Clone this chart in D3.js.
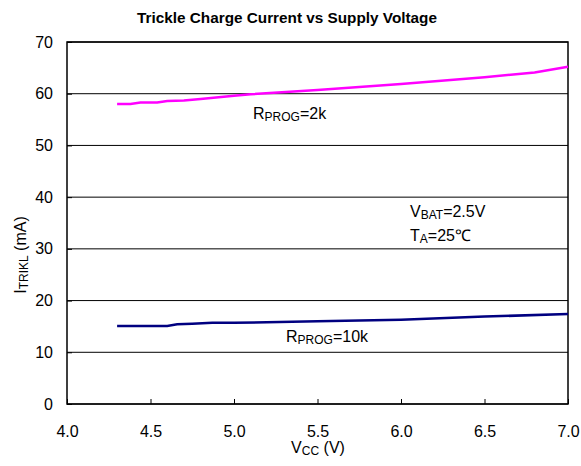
<!DOCTYPE html>
<html><head><meta charset="utf-8">
<script src="https://cdn.jsdelivr.net/npm/d3@7"></script>
<style>body{margin:0;background:#fff}svg{display:block}text{font-family:"Liberation Sans",Arial,sans-serif}</style>
</head><body><svg id="c" width="581" height="466"></svg>
<script>
const xTicks = [4.0,4.5,5.0,5.5,6.0,6.5,7.0];
const yTicks = [0,10,20,30,40,50,60,70];
const vcc2k  = [4.3,4.38,4.44,4.54,4.6,4.7,4.8,5.0,5.1,5.5,6.0,6.5,6.8,7.0];
const i2k    = [58.0,58.0,58.3,58.3,58.6,58.7,59.0,59.6,59.9,60.7,61.9,63.2,64.1,65.2];
const vcc10k = [4.3,4.6,4.66,4.75,4.87,5.0,5.5,6.0,6.5,7.0];
const i10k   = [15.1,15.1,15.4,15.5,15.7,15.7,16.0,16.3,16.9,17.4];

const svg = d3.select("#c");
const L=67,R=568,T=42,B=404;
const x = d3.scaleLinear().domain([4,7]).range([L,R]);
const y = d3.scaleLinear().domain([0,70]).range([B,T]);
const FF = "Liberation Sans, Arial, sans-serif";

// gridlines
svg.append("g").selectAll("line").data(yTicks).join("line")
  .attr("x1",L).attr("x2",R).attr("y1",d=>y(d)).attr("y2",d=>y(d))
  .attr("stroke","#000").attr("stroke-width",1);

// axes
const xa = svg.append("g").attr("transform",`translate(0,${B})`)
  .call(d3.axisBottom(x).tickValues(xTicks).tickFormat(d3.format(".1f")).tickSizeInner(-5).tickSizeOuter(0).tickPadding(22));
xa.select(".domain").remove();
xa.selectAll("line").attr("stroke","#000");
xa.selectAll("text").attr("font-size",16).attr("fill","#000").attr("font-family",FF);
const ya = svg.append("g").attr("transform",`translate(${L},0)`)
  .call(d3.axisLeft(y).tickValues(yTicks).tickFormat(d3.format("d")).tickSizeInner(-5).tickSizeOuter(0).tickPadding(14));
ya.select(".domain").remove();
ya.selectAll("text").attr("font-size",16).attr("fill","#000").attr("font-family",FF);

// frame
svg.append("rect").attr("x",L).attr("y",T).attr("width",R-L).attr("height",B-T)
  .attr("fill","none").attr("stroke","#000").attr("stroke-width",1.5);

const line = d3.line().x(d=>x(d[0])).y(d=>y(d[1]));
svg.append("path").datum(vcc2k.map((v,i)=>[v,i2k[i]])).attr("d",line)
  .attr("fill","none").attr("stroke","#FF00FF").attr("stroke-width",2.5);
svg.append("path").datum(vcc10k.map((v,i)=>[v,i10k[i]])).attr("d",line)
  .attr("fill","none").attr("stroke","#000080").attr("stroke-width",2.5);

// title
svg.append("text").attr("x",287).attr("y",23).attr("text-anchor","middle")
  .attr("font-size",15).attr("font-weight","bold").attr("textLength",300).attr("lengthAdjust","spacingAndGlyphs")
  .text("Trickle Charge Current vs Supply Voltage");

function sub(xp,yp,main,subs,rest,anchor,rot){
  const t = svg.append("text").attr("x",xp).attr("y",yp).attr("font-size",16).attr("fill","#000")
    .attr("text-anchor",anchor||"start");
  if(rot) t.attr("transform",`rotate(-90,${xp},${yp})`);
  t.append("tspan").text(main);
  t.append("tspan").attr("font-size",12).attr("dy",2).text(subs);
  t.append("tspan").attr("dy",-2).text(rest);
  return t;
}
sub(253,119,"R","PROG","=2k");
sub(286,342,"R","PROG","=10k");
sub(410,217,"V","BAT","=2.5V");
sub(410,241,"T","A","=25℃");
sub(318,453,"V","CC"," (V)","middle");
sub(26,255,"I","TRIKL"," (mA)","middle",true);
</script></body></html>
